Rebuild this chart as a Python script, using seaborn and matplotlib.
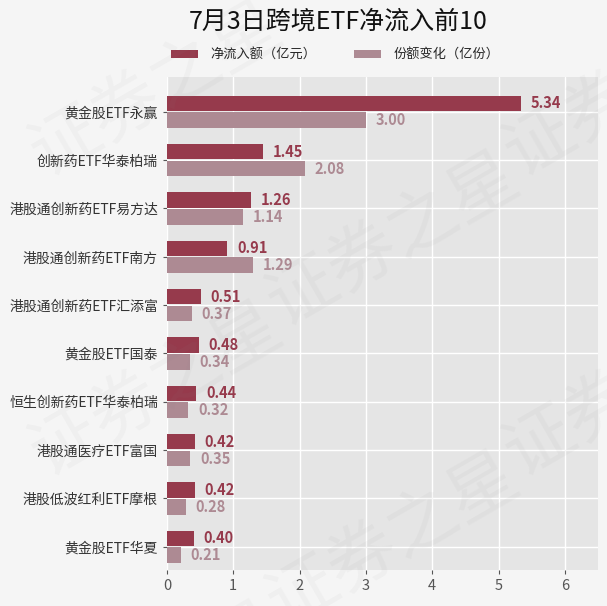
import pandas as pd
import seaborn as sns
import matplotlib.pyplot as plt

# 数据
funds = ["黄金股ETF永赢", "创新药ETF华泰柏瑞", "港股通创新药ETF易方达", "港股通创新药ETF南方",
         "港股通创新药ETF汇添富", "黄金股ETF国泰", "恒生创新药ETF华泰柏瑞", "港股通医疗ETF富国",
         "港股低波红利ETF摩根", "黄金股ETF华夏"]
net_inflow = [5.34, 1.45, 1.26, 0.91, 0.51, 0.48, 0.44, 0.42, 0.42, 0.40]
share_change = [3.00, 2.08, 1.14, 1.29, 0.37, 0.34, 0.32, 0.35, 0.28, 0.21]
series_names = ["净流入额（亿元）", "份额变化（亿份）"]
colors = ["#963a4c", "#ad8a93"]

df = pd.DataFrame({
    "fund": funds * 2,
    "value": net_inflow + share_change,
    "series": [series_names[0]] * len(funds) + [series_names[1]] * len(funds),
})

sns.set_theme(style="darkgrid", rc={
    "axes.facecolor": "#e5e5e5",
    "figure.facecolor": "#f5f5f5",
    "grid.color": "white",
    "grid.linewidth": 1.0,
    "xtick.bottom": True,
    "ytick.left": True,
})
plt.rcParams["font.family"] = ["Noto Sans CJK SC", "DejaVu Sans"]

fig = plt.figure(figsize=(6.07, 6.06), dpi=100)
ax = fig.add_axes([167 / 607, 36 / 606, 431 / 607, 493 / 606])

sns.barplot(data=df, y="fund", x="value", hue="series", orient="h",
            palette=colors, width=0.7, gap=0.08, saturation=1, linewidth=0,
            ax=ax, zorder=2)

for container, color in zip(ax.containers, colors):
    labels = [f"{v:.2f}" for v in container.datavalues]
    ax.bar_label(container, labels=labels, padding=7, color=color,
                 fontsize=10.5, fontweight="bold")

ax.set_xlim(0, 6.5)
ax.set_ylim(9.48, -0.72)
ax.set_xticks(range(7))
ax.xaxis.grid(True, color="white", linewidth=1.0)
ax.set_axisbelow(True)
# 类别中心的横向网格线
for yt in ax.get_yticks():
    ax.axhline(yt, color="white", linewidth=1.0, zorder=1)
ax.set_xlabel("")
ax.set_ylabel("")
ax.tick_params(axis="both", labelsize=10, length=3, width=0.8, color="#555555")
ax.tick_params(axis="x", labelsize=10.5, labelcolor="#555555")
ax.tick_params(axis="y", labelcolor="#333333")
for s in ax.spines.values():
    s.set_visible(False)

ax.legend(loc="center", bbox_to_anchor=(0.39, 1.044), ncol=2, frameon=False,
          fontsize=9.5, handlelength=2.05, handleheight=0.6, handletextpad=0.9,
          columnspacing=2.9, borderaxespad=0)

fig.text(338.5 / 607, 1 - 22 / 606, "7月3日跨境ETF净流入前10", fontsize=18,
         ha="center", va="center", color="#111111")

# 水印
for px, py in [(156, 90), (156, 390), (156, 690), (630, 90), (630, 390), (630, 690),
               (393, 240), (393, 540)]:
    fig.text(px / 607, 1 - py / 606, "证券之星", fontsize=50, color="#888888", alpha=0.06,
             rotation=30, ha="center", va="center", zorder=10)

fig.savefig("out.png", dpi=100, facecolor=fig.get_facecolor())
